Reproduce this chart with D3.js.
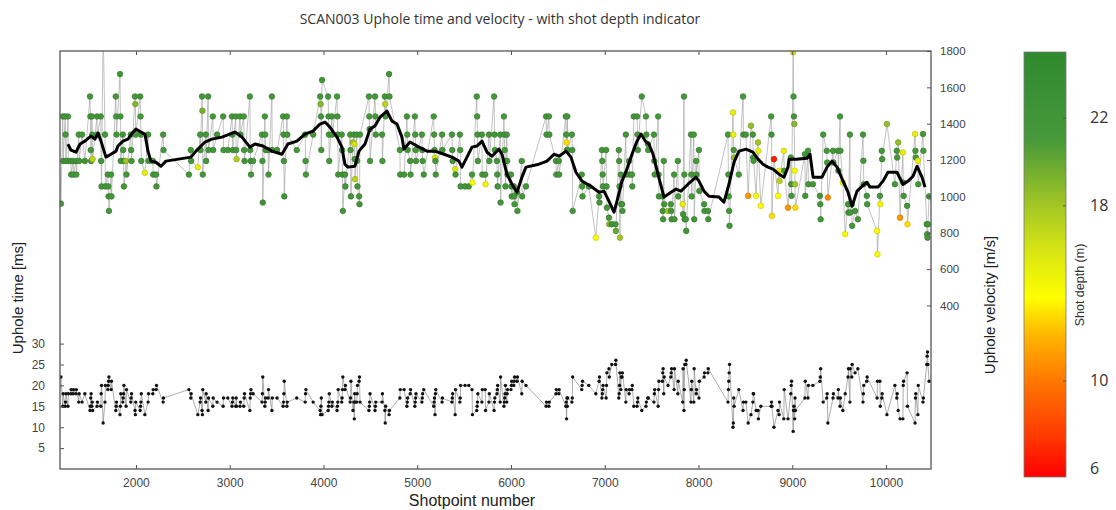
<!DOCTYPE html>
<html>
<head>
<meta charset="utf-8">
<script src="https://cdn.jsdelivr.net/npm/d3@7"></script>
<style>
  body { margin: 0; background: #fff; }
  text { font-family: "Liberation Sans", Arial, sans-serif; }
</style>
</head>
<body>
<svg id="chart" width="1116" height="510"></svg>
<script>
// shotpoint of every uphole record
const shotpoint = [
  1200, 1220,1224, 1245,1249,1253, 1275,1279, 1305,1309, 1330,1334, 1360,1364, 1390,1394, 1425, 1455,
  1510,1514,1518,1522, 1530,1534,1538, 1585,1589, 1625,1629,1633, 1650, 1670,1674, 1700,1704,1708,1712, 1735,1739, 1785,1789,1793, 1830,1834,1838,
  1860,1864,1868,1872, 1895,1899, 1945,1949,1953, 1990,1994,1998, 2045,2049,2053,2057, 2095, 2130,2134, 2180,2184, 2215,2219, 2290,2294,
  2565, 2585,2589, 2660, 2685,2689, 2705,2709,2713, 2745,2749, 2770,2774, 2820,2824, 2865, 2930,2934,
  2980, 3025,3029,3033, 3065,3069,3073, 3110,3114, 3150,3154,3158, 3215,3219,3223,3227, 3250, 3345,3349,3353, 3375,3379,3383, 3410,3414,
  3450,3454, 3505, 3570,3574,3578,3582, 3610,3614, 3715, 3805,3809,3813, 3890, 3965,3969,3973,3977, 3985, 4050,4054,4058,4062,
  4090,4094, 4145,4149,4153, 4157, 4195,4199,4203,4207, 4230,4234, 4285,4289,4293, 4315, 4325,4329,4333, 4337, 4355,4359,4363, 4380,4384, 4390,
  4485,4489,4493,4497, 4550,4554,4558, 4625,4629, 4655,4659,4663, 4700,4704, 4815,4819, 4860, 4890,4894,4898, 4925,4929, 4975,4979,4983,4987, 5050,5054,5058, 5070,
  5176,5180,5184, 5190,5194,5198, 5265,5269, 5370,5374,5378, 5405,5409, 5455,5459,5463, 5510, 5550, 5585,5589, 5635,5639,5643,5647, 5690,5694, 5725,5729,
  5765,5769, 5820,5824,5828, 5850,5854,5858, 5885,5889, 5925,5929,5933,5937,5941, 5955,5959,5963, 6000,6004,6008, 6030,6034,6038, 6065,6069, 6115,6119, 6160,
  6375,6379, 6405,6409, 6480,6484, 6510,6514, 6585,6589,6593,6597,6601,6605, 6650,6654,6658, 6755,6759,6763, 6830, 6905, 6940,6944, 6970,6974,6978,6982, 7015,7019,7023,
  7045,7049, 7075, 7115,7119, 7150,7154,7158,7162, 7172,7176, 7185,7189, 7225,7229, 7260,7264, 7290,7294, 7310, 7345,7349,7353, 7395, 7440,7444, 7460,7464, 7525,7529,7533, 7570,7574,7578,
  7615,7619,7623, 7630,7634, 7675, 7705,7709,7713, 7740,7744, 7780,7784, 7832,7836, 7845,7849,7853, 7865,7869, 7920,7924,7928, 7950,7954, 7975,7979, 8005,8009, 8060,8064, 8100,8104,
  8315,8319,8323,8327,8331, 8368,8372,8376,8380, 8430, 8475,8479, 8505, 8530, 8560, 8580,8584,8588, 8615, 8635,8639, 8665, 8775,8779,8783, 8805, 8848, 8860,8864, 8910,8914, 8955, 8985,8989,8993, 9010,9014,9018,9022,9026,9030,9034,
  9135,9139, 9168,9172, 9220, 9295,9299,9303, 9330, 9368,9372, 9380, 9435,9439, 9488,9492, 9510,9514, 9540, 9565, 9595,9599, 9615,9619, 9635,9639, 9670, 9700, 9755,9759,9763, 9795,9799,
  9905,9909, 9935,9939, 9955,9959, 10010, 10095, 10115,10119, 10130, 10150, 10180,10184,10188, 10225,10229, 10310,10314,10318, 10340,10344, 10395,10399, 10435,10439,10443,10447,10460
];

// uphole velocity [m/s]
const velocity = [
  960, 1440,1195, 1440,1340,1195, 1440,1195, 1195,1120, 1195,1120, 1195,1120, 1340,1195, 1340, 1195,
  1550,1440,1255,1195, 1440,1340,1205, 1440,1340, 1440,1195,1055, 1950, 1340,1055, 1120,1055,1000,920, 1120,1000, 1550,1440,1340, 1673,1440,1195,
  1340,1255,1195,1055, 1195,1120, 1340,1255,1195, 1550,1508,1340, 1550,1440,1340,1195, 1130, 1340,1195, 1195,1120, 1120,1055, 1340,1255,
  1120, 1255,1195, 1160, 1340,1255, 1550,1471,1120, 1340,1195, 1550,1255, 1440,1255, 1340, 1440,1255,
  1255, 1440,1340,1255, 1440,1255,1205, 1440,1340, 1440,1255,1195, 1550,1255,1195,1120, 1195, 1340,1195,966, 1440,1340,1255, 1255,1120,
  1550,1255, 1255, 1440,1340,1195,1000, 1440,1340, 1255, 1340,1195,1120, 1340, 1550,1508,1440,1255, 1640, 1550,1440,1340,1195,
  1440,1340, 1550,1440,1340, 1120, 1340,1255,1120,920, 1120,1055, 1340,1255,1000, 1297, 1340,1288,1205, 1095, 1340,1196,1055, 1000,957, 1340,
  1550,1440,1370,1195, 1550,1440,1340, 1340,1195, 1550,1508,1440, 1673,1550, 1255,1120, 1120, 1440,1340,1255, 1195,1120, 1440,1340,1255,1195, 1340,1255,1195, 1120,
  1440,1340,1255, 1214,1195,1120, 1340,1255, 1340,1255,1195, 1150,1120, 1340,1255,1055, 1055, 1055, 1120,1076, 1550,1440,1340,1195, 1340,1120, 1120,1067,
  1340,1195, 1550,1340,1255, 1195,1120,1055, 1340,966, 1440,1340,1255,1195,1055, 1340,1195,1120, 1120,1055,1000, 1055,1000,957, 1021,920, 1195,1000, 1055,
  1440,1340, 1440,1340, 1195,1120, 1195,1120, 1440,1340,1297,1255,1440,1255, 1340,1255,920, 1120,1055,1000, 1055, 773, 1000,966, 1255,1195,1120,1055, 1255,1055,938,
  883,847, 847, 847,810, 1255,1195,1055,773, 1120,957, 957,920, 1340,1120, 1195,1120, 1120,1055, 1440, 1440,1340,1255, 1550, 1440,1340, 1288,1255, 1340,1195,1120, 1440,1120,1000,
  1000,920,874, 1195,957, 920, 957,920,874, 1120,874, 1195,1000, 957,902, 1550,1120,874, 874,810, 1340,1120,1000, 1340,874, 1195,1120, 1255,1030, 957,920, 920,874,
  1340,1120,1000,920,838, 1462,1340,1255,1214, 1120, 1550,1340, 1340, 1003, 1389, 1340,1214,1196, 1003, 1297,1251, 948, 1440,1340,893, 1205, 1003, 1141,1085, 1251,1141, 938, 1214,1067,1003, 1793,1550,1440,1398,1141,1067,938,
  1232,1003, 1251,1067, 1067, 1003,957,874, 1340, 1251,1186, 994, 1251,1186, 1251,1141, 1440,1251, 1076, 792, 957,911, 1340,911, 957,838, 920, 874, 1340,1196,1067, 1003,957,
  810,681, 1003,957, 1251,1205, 1398, 1067, 1251,1214, 1297, 883, 1242,1076,1003, 948,847, 1343,1251,1214, 1196,1067, 1343,1251, 847,792,773,847,1000
];

// shot depth [m]
const shotDepth = [
  21.5, 21.5,22, 21.5,21.5,22, 21.5,21.5, 22,21.5, 21.5,21.5, 22,21.5, 21.5,21.5, 21.5, 22,
  21.5,21.5,21.5,22, 21.5,21.5,17, 21.5,21.5, 21.5,22,21.5, 21.5, 21.5,21.5, 21.5,21.5,22,21.5, 21.5,21.5, 21.5,21.5,21.5, 22,21.5,21.5,
  21.5,21.5,22,21.5, 18,21.5, 21.5,21.5,21.5, 21.5,19,21.5, 22,21.5,21.5,21.5, 15, 21.5,21.5, 21.5,22, 21.5,21.5, 21.5,21.5,
  21.5, 21.5,21.5, 15, 21.5,21.5, 21.5,19.5,21.5, 21.5,21.5, 22,21.5, 21.5,21.5, 21.5, 21.5,21.5,
  21.5, 21.5,21.5,21.5, 21.5,21.5,17.5, 21.5,21.5, 21.5,21.5,22, 21.5,21.5,21.5,21.5, 21.5, 21.5,21.5,22, 21.5,21.5,21.5, 21.5,21.5,
  21.5,21.5, 21.5, 21.5,21.5,21.5,22, 21.5,21.5, 21.5, 21.5,21.5,21.5, 21.5, 21.5,19,21.5,21.5, 22, 21.5,21.5,21.5,21.5,
  21.5,21.5, 21.5,21.5,21.5, 21.5, 21.5,21.5,21.5,21.5, 21.5,21.5, 21.5,21.5,22, 18, 21.5,16,21.5, 17, 21.5,21.5,21.5, 21.5,22, 21.5,
  21.5,21.5,21.5,21.5, 21.5,21.5,21.5, 21.5,21.5, 21.5,17,21.5, 22,21.5, 21.5,21.5, 21.5, 21.5,21.5,21.5, 21.5,21.5, 21.5,21.5,21.5,21.5, 21.5,21.5,21.5, 21.5,
  21.5,21.5,21.5, 16,21.5,21.5, 21.5,21.5, 21.5,21.5,21.5, 15.5,21.5, 21.5,21.5,21.5, 21.5, 21.5, 21.5,14, 21.5,21.5,21.5,21.5, 21.5,21.5, 21.5,14.5,
  21.5,21.5, 21.5,21.5,21.5, 21.5,21.5,21.5, 21.5,21.5, 21.5,21.5,21.5,21.5,21.5, 21.5,21.5,21.5, 21.5,21.5,21.5, 21.5,21.5,21.5, 21.5,21.5, 21.5,21.5, 21.5,
  21.5,21.5, 21.5,21.5, 21.5,21.5, 21.5,21.5, 21.5,21.5,13,21.5,21.5,21.5, 21.5,21.5,21.5, 21.5,21.5,21.5, 21.5, 14, 21.5,21.5, 21.5,21.5,21.5,21.5, 21.5,21.5,21.5,
  21.5,19, 21.5, 21.5,20, 21.5,21.5,21.5,18, 21.5,21.5, 21.5,21.5, 21.5,21.5, 21.5,21.5, 21.5,21.5, 21.5, 21.5,21.5,21.5, 21.5, 21.5,21.5, 21.5,21.5, 21.5,21.5,21.5, 21.5,21.5,21.5,
  21.5,21.5,21.5, 21.5,21.5, 18, 21.5,21.5,21.5, 21.5,21.5, 21.5,21.5, 15,21.5, 21.5,21.5,21.5, 21.5,21.5, 21.5,21.5,21.5, 21.5,21.5, 21.5,21.5, 21.5,21.5, 21.5,21.5, 21.5,21.5,
  21.5,21.5,21.5,21.5,21.5, 15,15,21.5,18.5, 21.5, 21.5,21.5, 21.5, 11, 18.5, 21.5,21.5,21.5, 14, 18,15, 14, 21.5,21.5,13, 6.5, 14, 14.5,17, 15,21.5, 11, 21.5,21.5,21.5, 16,21.5,21.5,19,14,18,13,
  21.5,21.5, 21.5,21.5, 21.5, 21.5,21.5,21.5, 21.5, 21.5,21.5, 10.5, 21.5,21.5, 21.5,21.5, 21.5,21.5, 15, 14, 21.5,21.5, 21.5,21.5, 21.5,21.5, 21.5, 21.5, 21.5,21.5,21.5, 21.5,21.5,
  14,14, 21.5,14.5, 21.5,21.5, 18.5, 21.5, 21.5,21.5, 18.5, 11, 15,21.5,21.5, 21.5,13, 15,21.5,21.5, 15,21.5, 21.5,21.5, 21.5,21.5,21.5,21.5,21.5
];

// uphole time [ms]
const upholeTime = [
  22, 15,18, 15,16,18, 15,18, 18,19, 18,19, 18,19, 16,18, 16, 18,
  14,15,17,18, 15,16,14, 15,16, 15,18,20, 11, 16,20, 19,20,21,22, 19,21, 14,15,16, 13,15,18,
  16,17,18,20, 15,19, 16,17,18, 14,13,16, 14,15,16,18, 13, 16,18, 18,19, 19,20, 16,17,
  19, 17,18, 13, 16,17, 14,13,19, 16,18, 14,17, 15,17, 16, 15,17,
  17, 15,16,17, 15,17,15, 15,16, 15,17,18, 14,17,18,19, 18, 16,18,22, 15,16,17, 17,19,
  14,17, 17, 15,16,18,21, 15,16, 17, 16,18,19, 16, 14,13,15,17, 13, 14,15,16,18,
  15,16, 14,15,16, 19, 16,17,19,22, 19,20, 16,17,21, 14, 16,12,18, 16, 16,18,20, 21,22, 16,
  14,15,16,18, 14,15,16, 16,18, 14,11,15, 13,14, 17,19, 19, 15,16,17, 18,19, 15,16,17,18, 16,17,18, 19,
  15,16,17, 13,18,19, 16,17, 16,17,18, 13,19, 16,17,20, 20, 20, 19,13, 14,15,16,18, 16,19, 19,14,
  16,18, 14,16,17, 18,19,20, 16,22, 15,16,17,18,20, 16,18,19, 19,20,21, 20,21,22, 21,22, 18,21, 20,
  15,16, 15,16, 18,19, 18,19, 15,16,12,17,15,17, 16,17,22, 19,20,21, 20, 18, 21,22, 17,18,19,20, 17,20,23,
  24,22, 25, 25,26, 17,18,20,23, 19,22, 22,23, 16,19, 18,19, 19,20, 15, 15,16,17, 14, 15,16, 17,17, 16,18,19, 15,19,21,
  21,23,24, 18,22, 20, 22,23,24, 19,24, 18,21, 16,24, 14,19,25, 25,26, 16,19,21, 16,24, 18,19, 17,21, 22,23, 23,24,
  16,19,21,23,25, 10,11,17,15, 19, 14,16, 16, 11, 13, 16,18,18, 14, 14,12, 15, 15,16,15, 10, 14, 13,16, 12,19, 12, 18,20,21, 9,14,15,14,12,17,14,
  17,21, 17,20, 20, 21,22,24, 16, 17,18, 11, 17,18, 17,19, 15,17, 14, 18, 22,24, 16,24, 22,25, 23, 24, 16,18,20, 21,22,
  17,21, 21,15, 17,18, 13, 20, 17,18, 14, 12, 12,20,21, 23,15, 11,17,18, 13,20, 16,17, 25,27,28,25,21
];

// running mean of uphole velocity (black curve)
const meanShot = [1275,1307,1360,1403,1456,1520,1563,1595,1627,1680,1733,1787,1808,1861,1915,1968,2000,2053,2096,2128,
  2160,2213,2267,2320,2587,2640,2736,2811,2917,3056,3131,3216,3269,3355,3451,3557,3621,3717,3803,3888,
  3963,4016,4069,4144,4197,4229,4261,4336,4379,4443,4496,4549,4603,4677,4731,4784,4837,4859,4923,5019,
  5104,5189,5285,5371,5445,5477,5531,5584,5637,5691,5744,5797,5872,5904,5957,6011,6064,6117,6160,6299,
  6384,6459,6512,6587,6640,6693,6757,6853,6939,6992,7045,7099,7131,7184,7237,7291,7344,7387,7440,7472,
  7515,7568,7632,7707,7760,7813,7888,7973,8005,8059,8112,8219,8272,8325,8379,8432,8507,8581,8635,8688,
  8741,8795,8859,8912,8955,8965,9040,9158,9190,9222,9318,9371,9424,9478,9542,9595,9638,9691,9744,9797,
  9829,9915,9968,10021,10117,10181,10235,10288,10331,10384,10416];
const meanVelocity = [1288,1254,1243,1288,1304,1332,1315,1348,1304,1216,1232,1249,1277,1304,1315,1354,1370,1354,1343,1249,
  1194,1188,1166,1194,1216,1249,1299,1315,1326,1354,1326,1271,1288,1277,1249,1232,1288,1304,1343,1359,
  1398,1409,1381,1326,1271,1177,1161,1166,1249,1288,1370,1387,1436,1469,1414,1398,1326,1260,1299,1271,
  1249,1249,1232,1216,1194,1161,1216,1271,1277,1304,1243,1221,1260,1232,1122,1067,1023,1106,1161,1177,
  1194,1232,1221,1249,1216,1133,1084,1056,1023,1029,974,913,974,1084,1150,1232,1304,1343,1299,1288,
  1232,1122,996,1023,1040,1029,1067,1106,1084,1029,1001,996,968,1067,1188,1249,1260,1243,1205,1177,
  1161,1150,1122,1106,1161,1205,1205,1210,1232,1106,1106,1161,1194,1161,1084,1023,946,1029,1056,1078,
  1051,1051,1084,1133,1133,1067,1084,1111,1166,1106,1051];

// axes ticks
const shotTicks = [2000, 3000, 4000, 5000, 6000, 7000, 8000, 9000, 10000];
const timeTicks = [5, 10, 15, 20, 25, 30];
const velocityTicks = [400, 600, 800, 1000, 1200, 1400, 1600, 1800];
const depthTicks = [6, 10, 18, 22];

// colour bar
const depthStops = [5.6, 7.5, 10, 12, 13.8, 16, 18, 21, 25];
const depthColors = ['#ff0000', '#ff3a00', '#ff7800', '#ffb400', '#ffff00', '#d6e414', '#a2c624', '#47993a', '#2e8a2e'];

const svg = d3.select('#chart');
const plot = {left: 60, right: 931, top: 51, bottom: 469};

const x = d3.scaleLinear().domain([1190, 10480]).range([plot.left, plot.right]);
const yVel = d3.scaleLinear().domain([-500, 1800]).range([plot.bottom, plot.top]);
const yTime = d3.scaleLinear().domain([0, 100]).range([plot.bottom, plot.top]);
const depthColor = d3.scaleLinear().domain(depthStops).range(depthColors).clamp(true);

const n = Math.min(shotpoint.length, velocity.length, shotDepth.length, upholeTime.length);
const pts = d3.range(n).map(i => ({s: shotpoint[i], v: velocity[i], d: shotDepth[i], t: upholeTime[i]}));
const mean = meanShot.map((s, i) => ({s: s, v: meanVelocity[i]}));

svg.append('clipPath').attr('id', 'clip')
  .append('rect')
    .attr('x', plot.left).attr('y', plot.top)
    .attr('width', plot.right - plot.left).attr('height', plot.bottom - plot.top);

const g = svg.append('g').attr('clip-path', 'url(#clip)');

// velocity: thin joining line, coloured dots, mean curve
g.append('path')
  .datum(pts)
  .attr('d', d3.line().x(d => x(d.s)).y(d => yVel(d.v)))
  .attr('fill', 'none')
  .attr('stroke', '#a8a8a8')
  .attr('stroke-width', 0.7);

g.selectAll('circle.vel')
  .data(pts)
  .enter().append('circle')
    .attr('class', 'vel')
    .attr('cx', d => x(d.s))
    .attr('cy', d => yVel(d.v))
    .attr('r', 2.8)
    .attr('fill', d => depthColor(d.d))
    .attr('stroke', d => d3.color(depthColor(d.d)).darker(0.6))
    .attr('stroke-width', 0.7);

g.append('path')
  .datum(mean)
  .attr('d', d3.line().x(d => x(d.s)).y(d => yVel(d.v)))
  .attr('fill', 'none')
  .attr('stroke', '#000')
  .attr('stroke-width', 3)
  .attr('stroke-linejoin', 'round');

// uphole time
g.append('path')
  .datum(pts)
  .attr('d', d3.line().x(d => x(d.s)).y(d => yTime(d.t)))
  .attr('fill', 'none')
  .attr('stroke', '#8a8a8a')
  .attr('stroke-width', 0.7);

g.selectAll('circle.time')
  .data(pts)
  .enter().append('circle')
    .attr('class', 'time')
    .attr('cx', d => x(d.s))
    .attr('cy', d => yTime(d.t))
    .attr('r', 1.7)
    .attr('fill', '#111');

// frame and axes
function styleAxis(sel, size) {
  sel.select('.domain').remove();
  sel.selectAll('.tick line').attr('stroke', '#555');
  sel.selectAll('.tick text').attr('fill', '#444').style('font-size', size + 'px')
    .style('font-family', '"Liberation Sans", Arial, sans-serif');
}

svg.append('g')
  .attr('transform', 'translate(0,' + plot.bottom + ')')
  .call(d3.axisBottom(x).tickValues(shotTicks).tickFormat(d3.format('d')).tickSize(-4).tickPadding(9))
  .call(sel => styleAxis(sel, 12));

svg.append('g')
  .attr('transform', 'translate(0,' + plot.top + ')')
  .call(d3.axisTop(x).tickValues(shotTicks).tickSize(-4).tickFormat(''))
  .call(sel => styleAxis(sel, 12));

svg.append('g')
  .attr('transform', 'translate(' + plot.left + ',0)')
  .call(d3.axisLeft(yTime).tickValues(timeTicks).tickFormat(d3.format('d')).tickSize(-4).tickPadding(15))
  .call(sel => styleAxis(sel, 12));

svg.append('g')
  .attr('transform', 'translate(' + plot.right + ',0)')
  .call(d3.axisRight(yVel).tickValues(velocityTicks).tickFormat(d3.format('d')).tickSize(-4).tickPadding(9))
  .call(sel => styleAxis(sel, 11.5));

svg.append('rect')
  .attr('x', plot.left).attr('y', plot.top)
  .attr('width', plot.right - plot.left).attr('height', plot.bottom - plot.top)
  .attr('fill', 'none')
  .attr('stroke', '#555')
  .attr('stroke-width', 1.3);

// titles
svg.append('text')
  .attr('x', 500).attr('y', 24)
  .attr('text-anchor', 'middle')
  .style('font-family', '"Open Sans", sans-serif')
  .style('font-size', '14px')
  .attr('fill', '#333')
  .text('SCAN003 Uphole time and velocity - with shot depth indicator');

svg.append('text')
  .attr('x', 472).attr('y', 506)
  .attr('text-anchor', 'middle')
  .style('font-size', '16px')
  .attr('fill', '#222')
  .text('Shotpoint number');

svg.append('text')
  .attr('transform', 'translate(23,298) rotate(-90)')
  .attr('text-anchor', 'middle')
  .style('font-size', '15px')
  .attr('fill', '#222')
  .text('Uphole time [ms]');

svg.append('text')
  .attr('transform', 'translate(995,305) rotate(-90)')
  .attr('text-anchor', 'middle')
  .style('font-size', '15px')
  .attr('fill', '#222')
  .text('Uphole velocity [m/s]');

// colour bar
const bar = {left: 1024, right: 1066, top: 52, bottom: 477};
const yDepth = d3.scaleLinear().domain([depthStops[0], depthStops[depthStops.length - 1]]).range([bar.bottom, bar.top]);

const grad = svg.append('defs').append('linearGradient')
  .attr('id', 'depthGrad')
  .attr('x1', 0).attr('y1', 1).attr('x2', 0).attr('y2', 0);
grad.selectAll('stop')
  .data(depthStops)
  .enter().append('stop')
    .attr('offset', d => (d - depthStops[0]) / (depthStops[depthStops.length - 1] - depthStops[0]))
    .attr('stop-color', (d, i) => depthColors[i]);

svg.append('rect')
  .attr('x', bar.left).attr('y', bar.top)
  .attr('width', bar.right - bar.left).attr('height', bar.bottom - bar.top)
  .attr('fill', 'url(#depthGrad)')
  .attr('stroke', '#777')
  .attr('stroke-width', 0.8);

svg.append('g')
  .attr('transform', 'translate(' + bar.right + ',0)')
  .call(d3.axisRight(yDepth).tickValues(depthTicks).tickSize(-3).tickPadding(24))
  .call(sel => {
    sel.select('.domain').remove();
    sel.selectAll('.tick line').attr('stroke', '#555');
    sel.selectAll('.tick text').attr('fill', '#333')
      .style('font-size', '16px').style('font-family', '"Open Sans", sans-serif');
  });

svg.append('text')
  .attr('transform', 'translate(1084,285) rotate(-90)')
  .attr('text-anchor', 'middle')
  .style('font-size', '12.5px')
  .attr('fill', '#333')
  .text('Shot depth (m)');
</script>
</body>
</html>
